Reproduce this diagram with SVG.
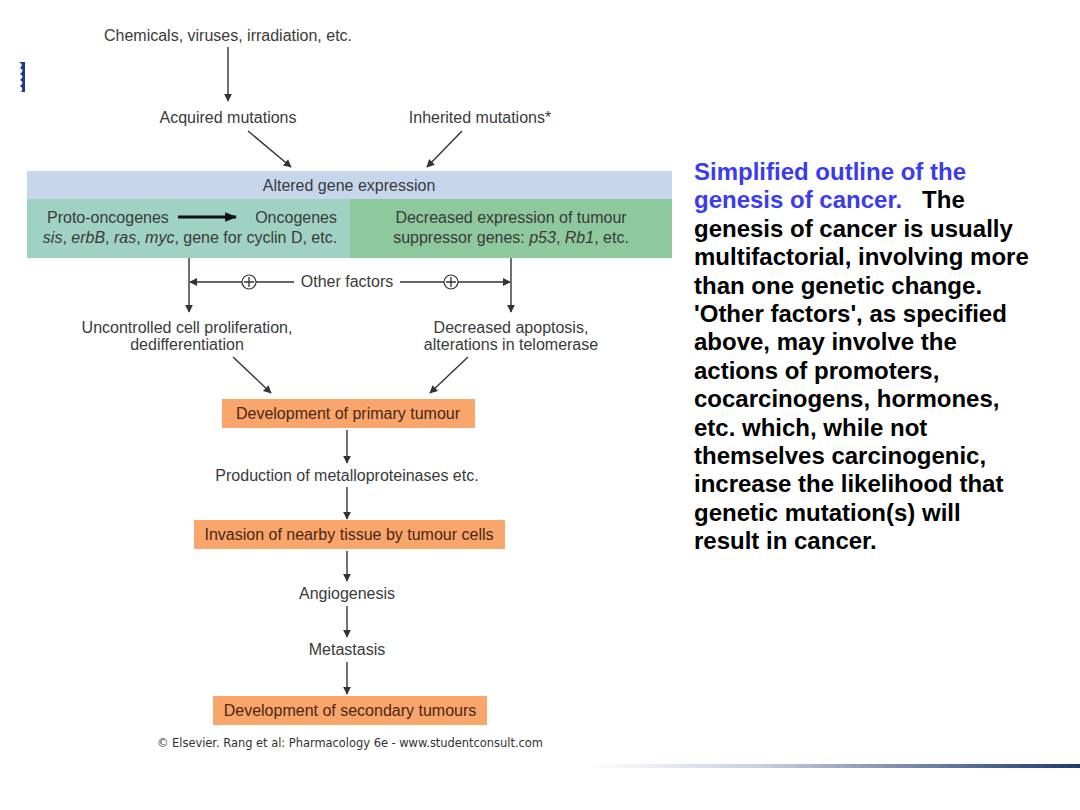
<svg xmlns="http://www.w3.org/2000/svg" width="1080" height="810" viewBox="0 0 1080 810">
<defs>
<marker id="ah" viewBox="0 0 10 10" refX="9" refY="5" markerWidth="8" markerHeight="9" markerUnits="userSpaceOnUse" orient="auto">
<path d="M0,0 L10,5 L0,10 z" fill="#333"/>
</marker>
<marker id="ahb" viewBox="0 0 10 10" refX="9" refY="5" markerWidth="4" markerHeight="4" orient="auto">
<path d="M0,1 L10,5 L0,9 z" fill="#111"/>
</marker>
<linearGradient id="bar" x1="0" y1="0" x2="1" y2="0">
<stop offset="0" stop-color="#ffffff"/>
<stop offset="0.35" stop-color="#c9d0e0"/>
<stop offset="1" stop-color="#1e3a70"/>
</linearGradient>
</defs>
<style>
.t{font-family:"Liberation Sans",Arial,sans-serif;font-size:16px;fill:#3a3a3a;text-anchor:middle}
.bx{font-family:"Liberation Sans",Arial,sans-serif;font-size:16px;fill:#4a2810;text-anchor:middle}
.ob{fill:#f9a56c}
.ca{stroke:#333;stroke-width:1.4;fill:none;marker-end:url(#ah)}
.r{font-family:"Liberation Sans",Arial,sans-serif;font-size:24px;font-weight:bold;fill:#000}
.blue{fill:#3b3bf0}
.pl{fill:#fff;stroke:#333;stroke-width:1.2}
</style>
<rect width="1080" height="810" fill="#fff"/>
<path d="M19,62 q5,2 1,6 q5,2 0,6 q5,2 0,6 q5,2 0,6 q4,2 1,6 l4,0 l0,-30 z" fill="#1f3a8a"/>
<g id="chemicals"><text class="t" x="228" y="41">Chemicals, viruses, irradiation, etc.</text></g>
<g id="acquired"><text class="t" x="228" y="123">Acquired mutations</text></g>
<g id="inherited"><text class="t" x="480" y="123">Inherited mutations*</text></g>
<g id="altered">
<rect x="27" y="171" width="645" height="28" fill="#c6d6eb"/>
<text class="t" x="349" y="191">Altered gene expression</text>
</g>
<g id="oncogenes">
<rect x="27" y="199" width="323" height="59" fill="#9fd2c3"/>
<text class="t" x="47" y="223" style="text-anchor:start">Proto-oncogenes</text>
<line x1="178" y1="217" x2="236" y2="217" stroke="#111" stroke-width="3" marker-end="url(#ahb)"/>
<text class="t" x="337" y="223" style="text-anchor:end">Oncogenes</text>
<text class="t" x="190" y="243"><tspan font-style="italic">sis</tspan>, <tspan font-style="italic">erbB</tspan>, <tspan font-style="italic">ras</tspan>, <tspan font-style="italic">myc</tspan>, gene for cyclin D, etc.</text>
</g>
<g id="suppressor">
<rect x="350" y="199" width="322" height="59" fill="#8ec89d"/>
<text class="t" x="511" y="223">Decreased expression of tumour</text>
<text class="t" x="511" y="243">suppressor genes: <tspan font-style="italic">p53</tspan>, <tspan font-style="italic">Rb1</tspan>, etc.</text>
</g>
<g id="otherfactors"><text class="t" x="347" y="287">Other factors</text></g>
<g id="proliferation">
<text class="t" x="187" y="333">Uncontrolled cell proliferation,</text>
<text class="t" x="187" y="350">dedifferentiation</text>
</g>
<g id="apoptosis">
<text class="t" x="511" y="333">Decreased apoptosis,</text>
<text class="t" x="511" y="350">alterations in telomerase</text>
</g>
<g id="primary">
<rect class="ob" x="222" y="399" width="253" height="29"/>
<text class="bx" x="348" y="419">Development of primary tumour</text>
</g>
<g id="metallo"><text class="t" x="347" y="481">Production of metalloproteinases etc.</text></g>
<g id="invasion">
<rect class="ob" x="194" y="520" width="311" height="29"/>
<text class="bx" x="349" y="540">Invasion of nearby tissue by tumour cells</text>
</g>
<g id="angio"><text class="t" x="347" y="599">Angiogenesis</text></g>
<g id="metastasis"><text class="t" x="347" y="655">Metastasis</text></g>
<g id="secondary">
<rect class="ob" x="213" y="696" width="274" height="29"/>
<text class="bx" x="350" y="716">Development of secondary tumours</text>
</g>
<g id="connectors">
<line class="ca" x1="228" y1="47" x2="228" y2="101"/>
<line class="ca" x1="248" y1="131" x2="291" y2="167"/>
<line class="ca" x1="462" y1="131" x2="427" y2="167"/>
<line class="ca" x1="189" y1="258" x2="189" y2="312"/>
<line class="ca" x1="511" y1="258" x2="511" y2="312"/>
<line class="ca" x1="294" y1="282" x2="190" y2="282"/>
<line class="ca" x1="400" y1="282" x2="510" y2="282"/>
<circle class="pl" cx="249" cy="282" r="7"/>
<path d="M244,282 h10 M249,277 v10" stroke="#333" stroke-width="1.3"/>
<circle class="pl" cx="451" cy="282" r="7"/>
<path d="M446,282 h10 M451,277 v10" stroke="#333" stroke-width="1.3"/>
<line class="ca" x1="233" y1="357" x2="271" y2="393"/>
<line class="ca" x1="468" y1="357" x2="430" y2="393"/>
<line class="ca" x1="347" y1="430" x2="347" y2="463"/>
<line class="ca" x1="347" y1="487" x2="347" y2="519"/>
<line class="ca" x1="347" y1="551" x2="347" y2="581"/>
<line class="ca" x1="347" y1="606" x2="347" y2="637"/>
<line class="ca" x1="347" y1="662" x2="347" y2="694"/>
</g>
<g id="copyright"><text x="350" y="747" style="font-family:'DejaVu Sans',Verdana,sans-serif;font-size:11.5px;fill:#333;text-anchor:middle" textLength="386">© Elsevier. Rang et al: Pharmacology 6e - www.studentconsult.com</text></g>
<g id="caption">
<text class="r" x="694" y="180"><tspan class="blue">Simplified outline of the</tspan></text>
<text class="r" x="694" y="208.4" xml:space="preserve"><tspan class="blue">genesis of cancer.</tspan>   The</text>
<text class="r" x="694" y="236.8">genesis of cancer is usually</text>
<text class="r" x="694" y="265.2">multifactorial, involving more</text>
<text class="r" x="694" y="293.6">than one genetic change.</text>
<text class="r" x="694" y="322">'Other factors', as specified</text>
<text class="r" x="694" y="350.4">above, may involve the</text>
<text class="r" x="694" y="378.8">actions of promoters,</text>
<text class="r" x="694" y="407.2">cocarcinogens, hormones,</text>
<text class="r" x="694" y="435.6">etc. which, while not</text>
<text class="r" x="694" y="464">themselves carcinogenic,</text>
<text class="r" x="694" y="492.4">increase the likelihood that</text>
<text class="r" x="694" y="520.8">genetic mutation(s) will</text>
<text class="r" x="694" y="549.2">result in cancer.</text>
</g>
<rect x="585" y="764" width="495" height="4" fill="url(#bar)"/>
</svg>
